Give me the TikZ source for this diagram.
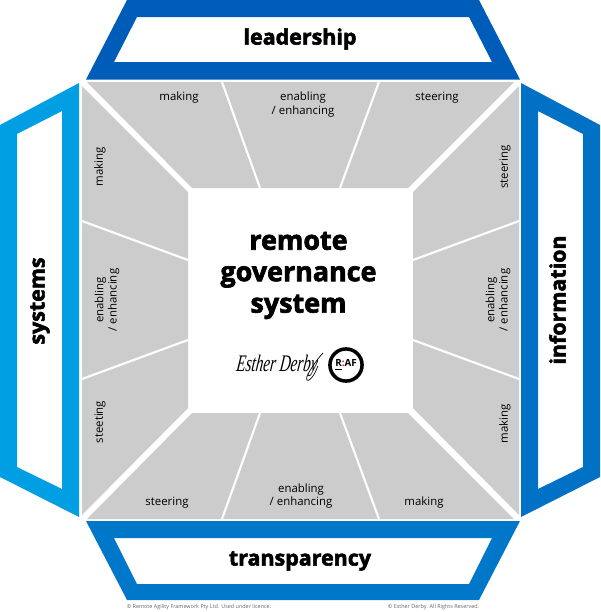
\documentclass[tikz,border=0pt]{standalone}
\usepackage{fontspec}
\usepackage{xcolor}
\usetikzlibrary{positioning, calc}
\setmainfont{Open Sans}
\newfontfamily\heavyfont[BoldFeatures={FakeBold=2.5}]{Open Sans}
\newfontfamily\signfont{Liberation Serif}
\definecolor{leadblue}{HTML}{005CB9}
\definecolor{sysblue}{HTML}{009FE3}
\definecolor{infoblue}{HTML}{0071C5}
\definecolor{tranblue}{HTML}{0077C8}
\definecolor{panelgray}{HTML}{CCCCCC}
\definecolor{footgray}{HTML}{666666}
\definecolor{rafred}{HTML}{C8102E}

\begin{document}
\begin{tikzpicture}[
  x=0.02cm, y=-0.02cm,
  band/.style={fill=#1, even odd rule},
  panel/.style={fill=panelgray},
  divider/.style={draw=white, line width=1.2pt},
  bandlabel/.style={font=\heavyfont\bfseries\fontsize{12.2}{15}\selectfont, text=black},
  titlelabel/.style={font=\heavyfont\bfseries\fontsize{15.3}{17.9}\selectfont, text=black, align=center},
  cell/.style={font=\fontsize{6.5}{7.5}\selectfont, text=black, align=center},
  foot/.style={font=\fontsize{3.1}{4}\selectfont, text=footgray, inner sep=0pt}
]
\useasboundingbox (0,0) rectangle (600,612);

% outer bands
\path[band=leadblue] (127,0) -- (86,79.5) -- (520,79.5) -- (479,0) -- cycle
  (137,17) -- (114,62) -- (492,62) -- (469,17) -- cycle;
\path[band=tranblue] (86,521) -- (127,600) -- (479,600) -- (520,521) -- cycle
  (114,538) -- (137,584) -- (469,584) -- (492,538) -- cycle;
\path[band=sysblue] (79,83) -- (0,125) -- (0,477) -- (79,517) -- cycle
  (62,111) -- (17,134) -- (17,467) -- (62,489) -- cycle;
\path[band=infoblue] (521,83) -- (600,125) -- (600,477) -- (521,517) -- cycle
  (538,111) -- (583,134) -- (583,467) -- (538,489) -- cycle;

% grey panels
\path[panel] (87,82) -- (514,82) -- (408,188) -- (192,188) -- cycle;
\path[panel] (87,519) -- (514,519) -- (408,413) -- (192,413) -- cycle;
\path[panel] (82,86) -- (188,192) -- (188,408) -- (82,515) -- cycle;
\path[panel] (519,86) -- (413,192) -- (413,408) -- (519,515) -- cycle;

% dividers
\draw[divider] (222,82) -- (260,188);
\draw[divider] (379,82) -- (340,188);
\draw[divider] (222,519) -- (260,413);
\draw[divider] (379,519) -- (340,413);
\draw[divider] (82,221) -- (188,260);
\draw[divider] (82,379) -- (188,340);
\draw[divider] (519,221) -- (413,260);
\draw[divider] (519,379) -- (413,340);

% band names
\node[bandlabel] (leadership) at (300,39) {leadership};
\node[bandlabel] (transparency) at (300,561) {transparency};
\node[bandlabel, rotate=90] (systems) at (40,301) {systems};
\node[bandlabel, rotate=90] (information) at (557.5,300) {information};

% cells
\node[cell] (topmaking) at (179,98) {making};
\node[cell] (topenabling) at (303,104.5) {enabling\\/ enhancing};
\node[cell] (topsteering) at (437,98) {steering};
\node[cell] (botsteering) at (167,503) {steering};
\node[cell] (botenabling) at (301,496) {enabling\\/ enhancing};
\node[cell] (botmaking) at (424,503) {making};
\node[cell, rotate=90] (leftmaking) at (100,167) {making};
\node[cell, rotate=90] (leftenabling) at (107,300) {enabling\\/ enhancing};
\node[cell, rotate=90] (leftsteeting) at (100,422) {steeting};
\node[cell, rotate=90] (rightsteering) at (505,167) {steering};
\node[cell, rotate=90] (rightenabling) at (498,300) {enabling\\/ enhancing};
\node[cell, rotate=90] (rightmaking) at (505,424) {making};

% centre
\node[titlelabel] (title) at (298.5,275.5) {remote\\governance\\system};
\node[font=\signfont\itshape\fontsize{10}{12}\selectfont, xscale=0.86, yscale=1.35, xslant=0.2, inner sep=0pt] (signature) at (277,366) {Esther Derby};
\draw[line width=0.4pt] (signature.east) .. controls (312,383) and (303,384) .. (308,374) .. controls (312,367) and (318,358) .. (323,353);
\node[draw=black, line width=2pt, circle, minimum size=18.3pt, inner sep=0pt,
  font=\bfseries\fontsize{5.6}{6}\selectfont] (raf) at (346,365) {\underline{R}\textcolor{rafred}{:}AF};

% footer
\node[foot] (footleft) at (199,607) {© Remote Agility Framework Pty Ltd. Used under licence.};
\node[foot] (footright) at (433.5,607) {© Esther Derby. All Rights Reserved.};
\end{tikzpicture}
\end{document}
